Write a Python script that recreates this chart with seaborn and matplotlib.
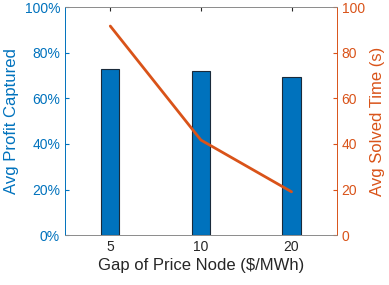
import matplotlib
matplotlib.use("Agg")
import matplotlib.pyplot as plt
import seaborn as sns
import pandas as pd
from matplotlib.ticker import PercentFormatter

# data
gaps = ["5", "10", "20"]
profit_captured = [72.7, 72.2, 69.4]   # percent
solved_time = [91.7, 41.7, 19.0]       # seconds

blue = "#0072BD"
orange = "#D95319"

sns.set_style("white")
plt.rcParams['font.family'] = ['Liberation Sans', 'DejaVu Sans']

df = pd.DataFrame({"gap": gaps, "profit": profit_captured, "time": solved_time})
df["pos"] = range(len(gaps))

fig = plt.figure(figsize=(3.89, 2.85), dpi=100)
ax = fig.add_axes([0.167, 0.175, 0.699, 0.800])

sns.barplot(data=df, x="gap", y="profit", color=blue, width=0.2,
            edgecolor="#1a2a3a", linewidth=0.8, saturation=1, ax=ax)
ax.set_ylim(0, 100)
ax.set_xlim(-0.5, 2.5)
ax.yaxis.set_major_formatter(PercentFormatter(decimals=0))
ax.set_yticks([0, 20, 40, 60, 80, 100])
ax.set_xlabel("Gap of Price Node ($/MWh)", fontsize=12, color="#262626", labelpad=3)
ax.set_ylabel("Avg Profit Captured", fontsize=12, color=blue)
ax.tick_params(axis="y", colors=blue, labelsize=10, direction="in", length=3)
ax.tick_params(axis="x", colors="#262626", labelsize=10, direction="in",
               length=3, top=True, bottom=True)

ax2 = ax.twinx()
sns.lineplot(data=df, x="pos", y="time", color=orange, linewidth=2, ax=ax2)
ax2.set_ylim(0, 100)
ax2.set_yticks([0, 20, 40, 60, 80, 100])
ax2.set_ylabel("Avg Solved Time (s)", fontsize=12, color=orange)
ax2.tick_params(axis="y", colors=orange, labelsize=10, direction="in", length=3)
ax2.set_xlim(-0.5, 2.5)

for a in (ax, ax2):
    a.spines["top"].set_color("#8c8c8c")
    a.spines["bottom"].set_color("#8c8c8c")
    a.spines["left"].set_color(blue)
    a.spines["right"].set_color(orange)
    for s in a.spines.values():
        s.set_linewidth(0.6)

fig.savefig("out.png", dpi=100)
